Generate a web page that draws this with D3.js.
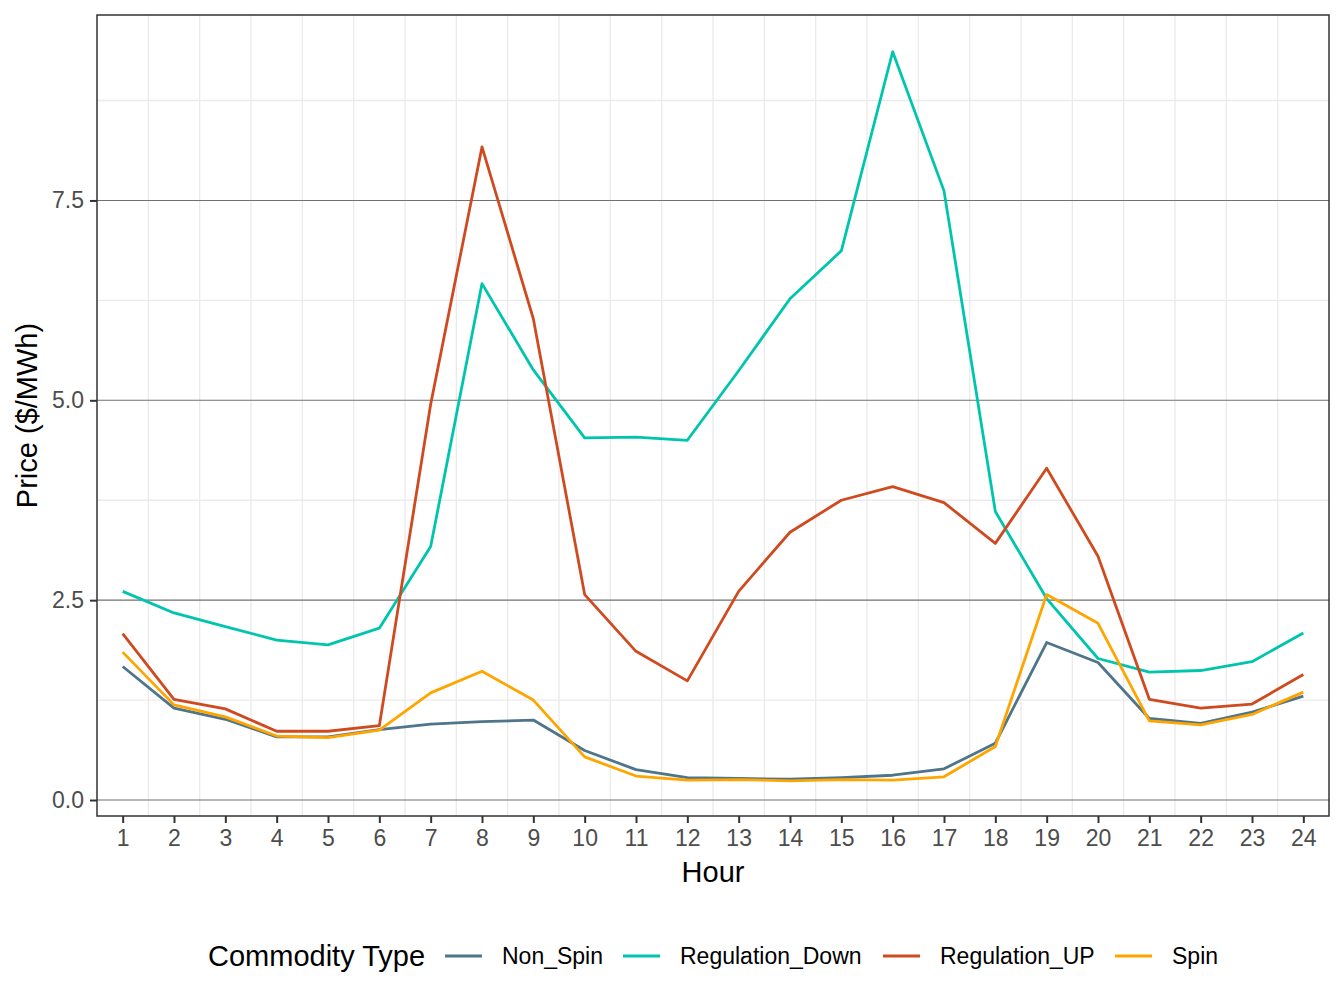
<!DOCTYPE html>
<html>
<head>
<meta charset="utf-8">
<script src="https://cdn.jsdelivr.net/npm/d3@7"></script>
<style>
  body { margin: 0; background: #fff; }
  svg { font-family: "Liberation Sans", Arial, sans-serif; }
</style>
</head>
<body>
<div id="chart"></div>
<script>
// hours 1..24
const hours = d3.range(1, 25);
const seriesNames = ["Non_Spin", "Regulation_Down", "Regulation_UP", "Spin"];
const seriesColors = ["#4E7589", "#00C5AE", "#D04A20", "#FFA500"];

const nonSpin = [1.67, 1.15, 1.01, 0.79, 0.79, 0.88, 0.95, 0.98, 1.00, 0.62, 0.38, 0.28,
                 0.27, 0.26, 0.28, 0.31, 0.39, 0.71, 1.97, 1.72, 1.02, 0.96, 1.10, 1.30];
const regDown = [2.61, 2.34, 2.17, 2.00, 1.94, 2.15, 3.17, 6.46, 5.38, 4.53, 4.54, 4.50,
                 5.37, 6.27, 6.87, 9.36, 7.62, 3.61, 2.52, 1.77, 1.60, 1.62, 1.73, 2.09];
const regUp =   [2.08, 1.26, 1.14, 0.86, 0.86, 0.93, 4.95, 8.17, 6.02, 2.57, 1.86, 1.49,
                 2.61, 3.35, 3.75, 3.92, 3.72, 3.21, 4.15, 3.05, 1.26, 1.15, 1.20, 1.57];
const spin =    [1.85, 1.19, 1.04, 0.80, 0.78, 0.875, 1.34, 1.61, 1.25, 0.54, 0.30, 0.25,
                 0.255, 0.24, 0.255, 0.25, 0.29, 0.67, 2.57, 2.21, 0.99, 0.94, 1.07, 1.35];
const seriesValues = [nonSpin, regDown, regUp, spin];

const yTicks = [0, 2.5, 5, 7.5];
const yMinor = [1.25, 3.75, 6.25, 8.75];

const W = 1344, H = 1008;
const margin = { top: 15, right: 15, bottom: 192, left: 97 };
const innerW = W - margin.left - margin.right;
const innerH = H - margin.top - margin.bottom;

const svg = d3.select("#chart").append("svg")
  .attr("width", W)
  .attr("height", H);

const g = svg.append("g")
  .attr("transform", `translate(${margin.left},${margin.top})`);

const x = d3.scaleLinear().domain([0.5, 24.5]).range([0, innerW]);
const y = d3.scaleLinear().domain([-0.2, 9.82]).range([innerH, 0]);

// minor grid
g.append("g").selectAll("line")
  .data(d3.range(1.5, 24, 1))
  .enter().append("line")
  .attr("x1", d => x(d)).attr("x2", d => x(d))
  .attr("y1", 0).attr("y2", innerH)
  .attr("stroke", "#EBEBEB").attr("stroke-width", 1.4);

g.append("g").selectAll("line")
  .data(yMinor)
  .enter().append("line")
  .attr("x1", 0).attr("x2", innerW)
  .attr("y1", d => y(d)).attr("y2", d => y(d))
  .attr("stroke", "#EBEBEB").attr("stroke-width", 1.4);

// major y grid (dark)
g.append("g").selectAll("line")
  .data(yTicks)
  .enter().append("line")
  .attr("x1", 0).attr("x2", innerW)
  .attr("y1", d => y(d)).attr("y2", d => y(d))
  .attr("stroke", "#707070").attr("stroke-width", 1.1);

// lines
const line = d3.line()
  .x((d, i) => x(hours[i]))
  .y(d => y(d));

g.append("g").selectAll("path")
  .data(seriesValues)
  .enter().append("path")
  .attr("d", d => line(d))
  .attr("fill", "none")
  .attr("stroke", (d, i) => seriesColors[i])
  .attr("stroke-width", 2.8)
  .attr("stroke-linejoin", "round");

// panel border
g.append("rect")
  .attr("x", 0).attr("y", 0)
  .attr("width", innerW).attr("height", innerH)
  .attr("fill", "none")
  .attr("stroke", "#333333")
  .attr("stroke-width", 1.5);

// axes
const xAxis = g.append("g")
  .attr("transform", `translate(0,${innerH})`)
  .call(d3.axisBottom(x).tickValues(hours).tickSize(7).tickPadding(7).tickFormat(d3.format("d")));

const yAxis = g.append("g")
  .call(d3.axisLeft(y).tickValues(yTicks).tickSize(7).tickPadding(6).tickFormat(d3.format(".1f")));

[xAxis, yAxis].forEach(a => {
  a.select(".domain").remove();
  a.selectAll(".tick line").attr("stroke", "#333333").attr("stroke-width", 2);
  a.selectAll(".tick text")
    .attr("fill", "#4D4D4D")
    .attr("font-size", "23px")
    .attr("font-family", "Liberation Sans, Arial, sans-serif");
});

// axis titles
svg.append("text")
  .attr("x", margin.left + innerW / 2)
  .attr("y", 882)
  .attr("text-anchor", "middle")
  .attr("font-size", "29px")
  .attr("fill", "#000")
  .text("Hour");

svg.append("text")
  .attr("transform", `translate(37,${margin.top + innerH / 2}) rotate(-90)`)
  .attr("text-anchor", "middle")
  .attr("font-size", "29px")
  .attr("fill", "#000")
  .text("Price ($/MWh)");

// legend
const legend = svg.append("g");
const legendY = 956;

legend.append("text")
  .attr("x", 208)
  .attr("y", legendY + 10)
  .attr("font-size", "29px")
  .attr("fill", "#000")
  .text("Commodity Type");

const keyX = [445, 623, 883, 1115];
seriesNames.forEach((name, i) => {
  legend.append("line")
    .attr("x1", keyX[i]).attr("x2", keyX[i] + 37)
    .attr("y1", legendY).attr("y2", legendY)
    .attr("stroke", seriesColors[i])
    .attr("stroke-width", 2.8);
  legend.append("text")
    .attr("x", keyX[i] + 57)
    .attr("y", legendY + 8)
    .attr("font-size", "23px")
    .attr("fill", "#000")
    .text(name);
});
</script>
</body>
</html>
